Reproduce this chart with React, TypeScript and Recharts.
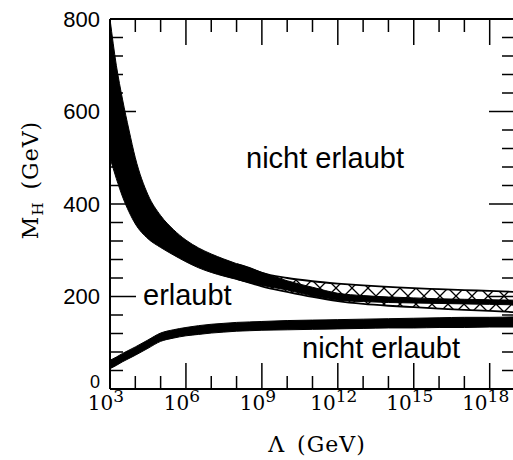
import React from 'react';
import { ComposedChart, Area, Line, XAxis, YAxis } from 'recharts';

// log10(Lambda / GeV)
const logLambda = [3, 3.25, 3.5, 3.75, 4, 4.5, 5, 5.5, 6, 6.5, 7, 7.5, 8, 8.5, 9, 10, 11, 12, 13, 14, 15, 16, 17, 18, 19];
// upper (triviality) band, solid black
const trivUpper = [800, 700, 625, 560, 500, 420, 375, 345, 322, 305, 292, 281, 271, 262, 252, 234, 220, 207, 202, 199, 197, 195, 194, 193, 192];
const trivLower = [500, 455, 415, 383, 357, 325, 306, 290, 275, 262, 252, 244, 237, 230, 224, 214, 201, 192, 189, 187, 186, 185, 184, 183, 182];
// cross-hatched band (visible for large Lambda)
const hatchUpper: (number | null)[] = [null, null, null, null, null, null, null, null, null, null, null, null, 270, 262, 251, 240, 233, 228, 224, 221, 218, 216, 214, 212, 210];
const hatchLower: (number | null)[] = [null, null, null, null, null, null, null, null, null, null, null, null, 238, 230, 222, 210, 199, 190, 184, 180, 177, 174, 171, 169, 166];
// lower (vacuum stability) band
const stabUpper = [62, 69, 77, 84, 91, 106, 121, 128, 133, 137, 140, 142, 144, 145, 146, 148, 149, 150, 151, 152, 153, 154, 155, 155, 156];
const stabLower = [44, 51, 59, 66, 73, 88, 103, 110, 115, 118, 121, 123, 125, 126, 127, 128, 129, 130, 131, 132, 132, 133, 133, 134, 134];

const xTicks = [3, 4, 5, 6, 7, 8, 9, 10, 11, 12, 13, 14, 15, 16, 17, 18, 19];
const yTicks = [0, 40, 80, 120, 160, 200, 240, 280, 320, 360, 400, 440, 480, 520, 560, 600, 640, 680, 720, 760, 800];

const data = logLambda.map((x, i) => ({
  x,
  triv: [trivLower[i], trivUpper[i]],
  hatch: hatchUpper[i] == null ? [null, null] : [hatchLower[i], hatchUpper[i]],
  hatchHi: hatchUpper[i],
  hatchLo: hatchLower[i],
  stab: [stabLower[i], stabUpper[i]],
}));

const MAJOR = 26;
const MINOR = 13;

const BottomTick = (props: any) => {
  const { x, y, payload } = props;
  const v = payload.value;
  const major = v % 3 === 0;
  return (
    <g>
      <line x1={x} y1={y} x2={x} y2={y - (major ? MAJOR : MINOR)} stroke="#000" strokeWidth={1.5} />
      {major && v <= 18 && (
        <text x={x - 4} y={y + 21} textAnchor="middle" fontFamily="DejaVu Serif" fontSize={20} fill="#000">
          10<tspan dy={-8} fontSize={17}>{v}</tspan>
        </text>
      )}
    </g>
  );
};

const TopTick = (props: any) => {
  const { x, y, payload } = props;
  const major = payload.value % 3 === 0;
  return <line x1={x} y1={y} x2={x} y2={y + (major ? MAJOR : MINOR)} stroke="#000" strokeWidth={1.5} />;
};

const LeftTick = (props: any) => {
  const { x, y, payload } = props;
  const v = payload.value;
  const major = v % 200 === 0;
  return (
    <g>
      <line x1={x} y1={y} x2={x + (major ? MAJOR : MINOR)} y2={y} stroke="#000" strokeWidth={1.5} />
      {major && (
        <text
          x={x - 10}
          y={v === 0 ? y - 7 : y}
          dy="0.36em"
          textAnchor="end"
          fontFamily="Liberation Sans, Arial"
          fontSize={v === 0 ? 18 : 22}
          fill="#000"
        >
          {v}
        </text>
      )}
    </g>
  );
};

const RightTick = (props: any) => {
  const { x, y, payload } = props;
  const major = payload.value % 200 === 0;
  return <line x1={x} y1={y} x2={x - (major ? MAJOR : MINOR)} y2={y} stroke="#000" strokeWidth={1.5} />;
};

export default function App() {
  return (
    <div style={{ position: 'absolute', left: 0, top: 0, width: 513, height: 460, overflow: 'hidden', background: '#fff' }}>
      <ComposedChart width={516} height={460} data={data} margin={{ top: 0, right: 0, bottom: 0, left: 0 }}>
        <defs>
          <pattern id="xhatch" patternUnits="userSpaceOnUse" width={16} height={16}>
            <rect width={16} height={16} fill="#fff" />
            <path d="M0,0 L16,16 M16,0 L0,16" stroke="#000" strokeWidth={1.3} />
          </pattern>
        </defs>
        <XAxis
          dataKey="x"
          type="number"
          domain={[3, 19]}
          allowDataOverflow
          ticks={xTicks}
          interval={0}
          height={71}
          tickSize={0}
          tickMargin={0}
          tickLine={false}
          tick={<BottomTick />}
          axisLine={{ stroke: '#000', strokeWidth: 2 }}
        />
        <XAxis
          xAxisId="top"
          orientation="top"
          dataKey="x"
          type="number"
          domain={[3, 19]}
          allowDataOverflow
          ticks={xTicks}
          interval={0}
          height={19}
          tickSize={0}
          tickMargin={0}
          tickLine={false}
          tick={<TopTick />}
          axisLine={{ stroke: '#000', strokeWidth: 2 }}
        />
        <YAxis
          type="number"
          domain={[0, 800]}
          allowDataOverflow
          ticks={yTicks}
          interval={0}
          width={110}
          tickSize={0}
          tickMargin={0}
          tickLine={false}
          tick={<LeftTick />}
          axisLine={{ stroke: '#000', strokeWidth: 2 }}
        />
        <YAxis
          yAxisId="right"
          orientation="right"
          type="number"
          domain={[0, 800]}
          allowDataOverflow
          ticks={yTicks}
          interval={0}
          width={1}
          tickSize={0}
          tickMargin={0}
          tickLine={false}
          tick={<RightTick />}
          axisLine={{ stroke: '#000', strokeWidth: 2 }}
        />
        <Area
          dataKey="hatch"
          type="monotone"
          stroke="none"
          fill="url(#xhatch)"
          fillOpacity={1}
          isAnimationActive={false}
          activeDot={false}
        />
        <Line dataKey="hatchHi" type="monotone" stroke="#000" strokeWidth={1.8} dot={false} activeDot={false} isAnimationActive={false} />
        <Line dataKey="hatchLo" type="monotone" stroke="#000" strokeWidth={1.8} dot={false} activeDot={false} isAnimationActive={false} />
        <Area
          dataKey="triv"
          type="monotone"
          stroke="#000"
          strokeWidth={1}
          fill="#000"
          fillOpacity={1}
          isAnimationActive={false}
          activeDot={false}
        />
        <Area
          dataKey="stab"
          type="monotone"
          stroke="#000"
          strokeWidth={1}
          fill="#000"
          fillOpacity={1}
          isAnimationActive={false}
          activeDot={false}
        />
        <text x={246} y={168} fontFamily="Liberation Sans, Arial" fontSize={29} fill="#000">nicht erlaubt</text>
        <text x={143} y={305} fontFamily="Liberation Sans, Arial" fontSize={29} fill="#000">erlaubt</text>
        <text x={302} y={358} fontFamily="Liberation Sans, Arial" fontSize={29} fill="#000">nicht erlaubt</text>
        <text x={317} y={452} textAnchor="middle" fontFamily="DejaVu Serif" fontSize={22} letterSpacing={1} fill="#000">
          Λ<tspan dx={12}>(GeV)</tspan>
        </text>
        <text
          x={38}
          y={180}
          transform="rotate(-90, 38, 180)"
          textAnchor="middle"
          fontFamily="DejaVu Serif"
          fontSize={22}
          letterSpacing={1}
          fill="#000"
        >
          M<tspan dy={5} fontSize={15}>H</tspan>
          <tspan dy={-5} dx={12}>(GeV)</tspan>
        </text>
      </ComposedChart>
    </div>
  );
}
